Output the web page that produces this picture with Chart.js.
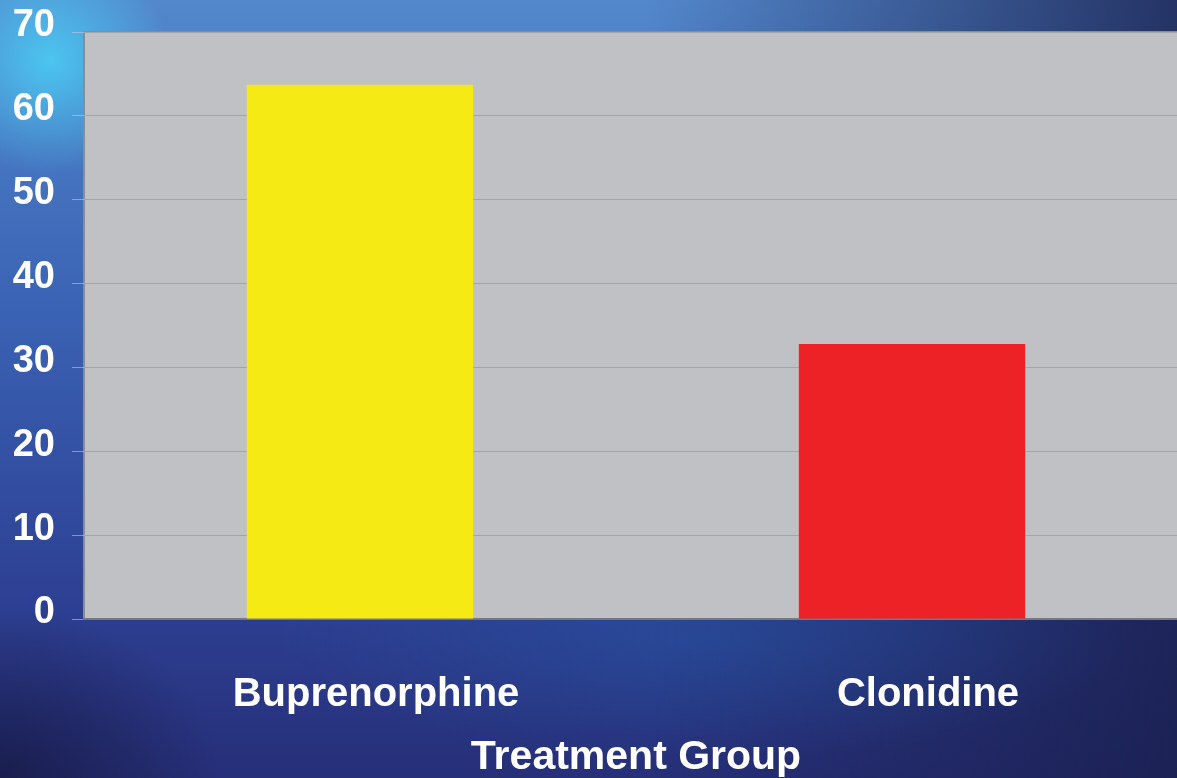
<!DOCTYPE html>
<html>
<head>
<meta charset="utf-8">
<script src="https://cdn.jsdelivr.net/npm/chart.js@4"></script>
<style>
  html, body {
    margin: 0;
    padding: 0;
    width: 1177px;
    height: 778px;
    overflow: hidden;
  }
  body {
    background:
      radial-gradient(ellipse 120px 115px at 50px 60px, rgba(75, 205, 245, 0.9), rgba(75, 205, 245, 0) 100%),
      radial-gradient(ellipse 220px 170px at 0px 778px, rgba(20, 22, 60, 0.7), rgba(20, 22, 60, 0) 100%),
      radial-gradient(ellipse 420px 120px at 700px 640px, rgba(35, 90, 165, 0.4), rgba(35, 90, 165, 0) 100%),
      linear-gradient(to right, rgba(25, 30, 75, 0) 55%, rgba(25, 30, 75, 0.8) 100%),
      linear-gradient(to bottom, #5388cc 0%, #3a62b4 40%, #2d3f92 78%, #262f78 100%);
  }
  #wrap {
    position: absolute;
    left: 0;
    top: 0;
  }
</style>
</head>
<body>
<div id="wrap"><canvas id="chart" width="1188" height="778"></canvas></div>
<script>
// Data
const categories = ['Buprenorphine', 'Clonidine'];
const values = [63.7, 32.8];
const barColors = ['#f5ea14', '#ec2227'];
const yTicks = [0, 10, 20, 30, 40, 50, 60, 70];
const axisTitle = 'Treatment Group';

// Gray plot area with a border on the left and top
const plotBackground = {
    id: 'plotBackground',
    beforeDraw(chart) {
        const a = chart.chartArea;
        const ctx = chart.ctx;
        ctx.save();
        ctx.fillStyle = '#c0c1c5';
        ctx.fillRect(a.left, a.top, a.right - a.left, a.bottom - a.top);
        ctx.strokeStyle = '#8b8c90';
        ctx.lineWidth = 2;
        ctx.beginPath();
        ctx.moveTo(a.left, a.bottom);
        ctx.lineTo(a.left, a.top);
        ctx.lineTo(a.right, a.top);
        ctx.stroke();
        ctx.restore();
    }
};

const fontFamily = '"Liberation Sans", Arial, sans-serif';

new Chart(document.getElementById('chart'), {
    type: 'bar',
    data: {
        labels: categories,
        datasets: [{
            data: values,
            backgroundColor: barColors,
            borderWidth: 0,
            barPercentage: 1,
            categoryPercentage: 0.41
        }]
    },
    options: {
        responsive: false,
        animation: false,
        devicePixelRatio: 1,
        layout: {
            padding: { left: 0, top: 32, right: 0, bottom: 0 }
        },
        plugins: {
            legend: { display: false },
            tooltip: { enabled: false }
        },
        scales: {
            x: {
                afterFit(scale) {
                    scale.height = 159;
                },
                grid: { display: false },
                border: { display: true, color: '#77787c', width: 2 },
                ticks: {
                    color: '#ffffff',
                    font: { family: fontFamily, size: 40, weight: 'bold' },
                    padding: 44,
                    labelOffset: 16
                },
                title: {
                    display: true,
                    text: axisTitle,
                    color: '#ffffff',
                    font: { family: fontFamily, size: 41, weight: 'bold', lineHeight: 1 },
                    padding: { top: 21, bottom: 0 }
                }
            },
            y: {
                min: 0,
                max: 70,
                afterBuildTicks(scale) {
                    scale.ticks = yTicks.map(v => ({ value: v }));
                },
                afterFit(scale) {
                    scale.width = 84;
                    // let the top label overflow into the page margin
                    scale.paddingTop = 0;
                },
                grid: {
                    color: '#a3a4a8',
                    lineWidth: 1,
                    tickLength: 12,
                    tickColor: 'rgba(190, 200, 225, 0.6)'
                },
                border: { display: false },
                ticks: {
                    color: '#ffffff',
                    font: { family: fontFamily, size: 38, weight: 'bold' },
                    padding: 17,
                    labelOffset: -6
                }
            }
        }
    },
    plugins: [plotBackground]
});
</script>
</body>
</html>
